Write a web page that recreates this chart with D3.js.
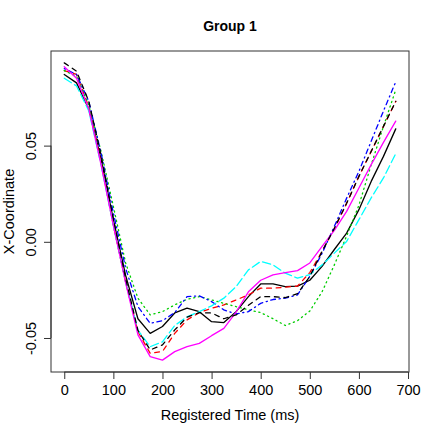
<!DOCTYPE html>
<html>
<head>
<meta charset="utf-8">
<script src="https://cdn.jsdelivr.net/npm/d3@7"></script>
<style>
  body { margin: 0; background: #fff; }
  svg { display: block; font-family: "Liberation Sans", Arial, sans-serif; }
</style>
</head>
<body>
<svg id="chart"></svg>
<script>
// registered time (ms)
const time = [0, 25, 50, 75, 100, 125, 150, 175, 200, 225, 250, 275, 300, 325,
  350, 375, 400, 425, 450, 475, 500, 525, 550, 575, 600, 625, 650, 675];

// one array per curve, in matplot order
const blackSolid = [0.087, 0.0826, 0.069, 0.043, 0.0115, -0.0175, -0.040, -0.0476, -0.044, -0.037,
  -0.0345, -0.0363, -0.0415, -0.042, -0.0363, -0.0285, -0.0219, -0.0219, -0.0233, -0.023,
  -0.020, -0.0128, -0.004, 0.0045, 0.0167, 0.0314, 0.0444, 0.0587];
const redDashed = [0.089, 0.087, 0.070, 0.041, 0.0085, -0.021, -0.0467, -0.058, -0.057, -0.0476,
  -0.0406, -0.0368, -0.0345, -0.0328, -0.0302, -0.0276, -0.0241, -0.0241, -0.0236, -0.023,
  -0.016, -0.005, 0.007, 0.020, 0.034, 0.047, 0.060, 0.073];
const greenDotted = [0.089, 0.086, 0.071, 0.047, 0.0184, -0.011, -0.0293, -0.038, -0.0363, -0.0328,
  -0.0299, -0.0285, -0.0302, -0.032, -0.0337, -0.0354, -0.0368, -0.040, -0.0435, -0.041,
  -0.036, -0.026, -0.012, 0.003, 0.019, 0.040, 0.060, 0.079];
const blueDotDash = [0.090, 0.087, 0.073, 0.046, 0.015, -0.0137, -0.0337, -0.0424, -0.041, -0.0368,
  -0.0285, -0.0281, -0.0311, -0.0354, -0.0375, -0.0363, -0.032, -0.030, -0.0293, -0.0276,
  -0.018, -0.006, 0.008, 0.0227, 0.0366, 0.0523, 0.068, 0.0832];
const cyanLongDash = [0.085, 0.081, 0.068, 0.040, 0.0085, -0.021, -0.046, -0.0545, -0.052, -0.0435,
  -0.039, -0.0363, -0.0333, -0.0293, -0.0233, -0.0146, -0.0102, -0.012, -0.0163, -0.0189,
  -0.017, -0.012, -0.0059, 0.0002, 0.0115, 0.0228, 0.0332, 0.0458];
const magentaSolid = [0.091, 0.085, 0.069, 0.040, 0.0085, -0.0214, -0.0484, -0.0597, -0.0615, -0.0571,
  -0.0545, -0.0528, -0.0488, -0.045, -0.0365, -0.026, -0.020, -0.0172, -0.016, -0.015,
  -0.011, -0.0024, 0.0059, 0.0158, 0.028, 0.0401, 0.0517, 0.0627];
const blackDashed = [0.093, 0.0887, 0.073, 0.045, 0.012, -0.019, -0.046, -0.0562, -0.0536, -0.0458,
  -0.0392, -0.0368, -0.037, -0.040, -0.038, -0.033, -0.0285, -0.0285, -0.029, -0.027,
  -0.018, -0.005, 0.007, 0.020, 0.034, 0.047, 0.060, 0.073];

const xTicks = [0, 100, 200, 300, 400, 500, 600, 700];
const yTicks = [-0.05, 0, 0.05];

const width = 436;
const height = 436;
const plot = { left: 51, right: 409, top: 51, bottom: 372 };
const lineWidth = 1.3;

const drawChart = () => {
  const series = [
    { values: blackSolid, color: "#000000", dash: null },
    { values: redDashed, color: "#ff0000", dash: [4, 4] },
    { values: greenDotted, color: "#00cd00", dash: [1, 3] },
    { values: blueDotDash, color: "#0000ff", dash: [1, 3, 4, 3] },
    { values: cyanLongDash, color: "#00ffff", dash: [7, 3] },
    { values: magentaSolid, color: "#ff00ff", dash: null },
    { values: blackDashed, color: "#000000", dash: [4, 4] }
  ];

  // R style ranges: data extent padded by 4% each side
  const pad = ([a, b]) => [a - (b - a) * 0.04, b + (b - a) * 0.04];
  const allY = series.flatMap(s => s.values);

  const x = d3.scaleLinear().domain(pad(d3.extent(time))).range([plot.left, plot.right]);
  const y = d3.scaleLinear().domain(pad(d3.extent(allY))).range([plot.bottom, plot.top]);

  const svg = d3.select("#chart").attr("width", width).attr("height", height);

  const line = d3.line()
    .x((d, i) => x(time[i]))
    .y(d => y(d));

  svg.selectAll("path.curve")
    .data(series)
    .enter()
    .append("path")
    .attr("class", "curve")
    .attr("d", s => line(s.values))
    .attr("fill", "none")
    .attr("stroke", s => s.color)
    .attr("stroke-width", lineWidth)
    .attr("stroke-linecap", "round")
    .attr("stroke-linejoin", "round")
    .attr("stroke-dasharray", s => s.dash ? s.dash.map(v => v * 1.2).join(",") : null);

  // frame
  svg.append("rect")
    .attr("x", plot.left)
    .attr("y", plot.top)
    .attr("width", plot.right - plot.left)
    .attr("height", plot.bottom - plot.top)
    .attr("fill", "none")
    .attr("stroke", "#333")
    .attr("stroke-width", 1);

  // R prints a plain hyphen for negatives
  const fmtY = v => d3.format(".2f")(v).replace("\u2212", "-");

  // x axis
  const xAxis = svg.append("g")
    .attr("transform", "translate(0," + plot.bottom + ")")
    .call(d3.axisBottom(x).tickValues(xTicks).tickSize(7).tickPadding(6).tickFormat(d3.format("d")));
  xAxis.select(".domain")
    .attr("d", "M" + x(xTicks[0]) + ",0H" + x(xTicks[xTicks.length - 1]))
    .attr("stroke", "#333");
  xAxis.selectAll(".tick line").attr("stroke", "#333");
  xAxis.selectAll(".tick text")
    .attr("font-size", 14.5)
    .attr("font-family", "Liberation Sans, Arial, sans-serif")
    .attr("fill", "#000");

  // y axis, labels parallel to the axis
  const yAxis = svg.append("g")
    .attr("transform", "translate(" + plot.left + ",0)")
    .call(d3.axisLeft(y).tickValues(yTicks).tickSize(7).tickFormat(fmtY));
  yAxis.select(".domain")
    .attr("d", "M0," + y(yTicks[0]) + "V" + y(yTicks[yTicks.length - 1]))
    .attr("stroke", "#333");
  yAxis.selectAll(".tick line").attr("stroke", "#333");
  yAxis.selectAll(".tick text")
    .attr("x", null)
    .attr("dy", null)
    .attr("text-anchor", "middle")
    .attr("transform", "translate(-15.5,0) rotate(-90)")
    .attr("font-size", 14.5)
    .attr("font-family", "Liberation Sans, Arial, sans-serif")
    .attr("fill", "#000");

  // titles
  svg.append("text")
    .attr("x", (plot.left + plot.right) / 2)
    .attr("y", 31)
    .attr("text-anchor", "middle")
    .attr("font-weight", "bold")
    .attr("font-size", 14)
    .text("Group 1");

  svg.append("text")
    .attr("x", (plot.left + plot.right) / 2)
    .attr("y", 420)
    .attr("text-anchor", "middle")
    .attr("font-size", 14.5)
    .text("Registered Time (ms)");

  svg.append("text")
    .attr("transform", "translate(13.5," + (plot.top + plot.bottom) / 2 + ") rotate(-90)")
    .attr("text-anchor", "middle")
    .attr("font-size", 14.5)
    .text("X-Coordinate");
};

drawChart();
</script>
</body>
</html>
